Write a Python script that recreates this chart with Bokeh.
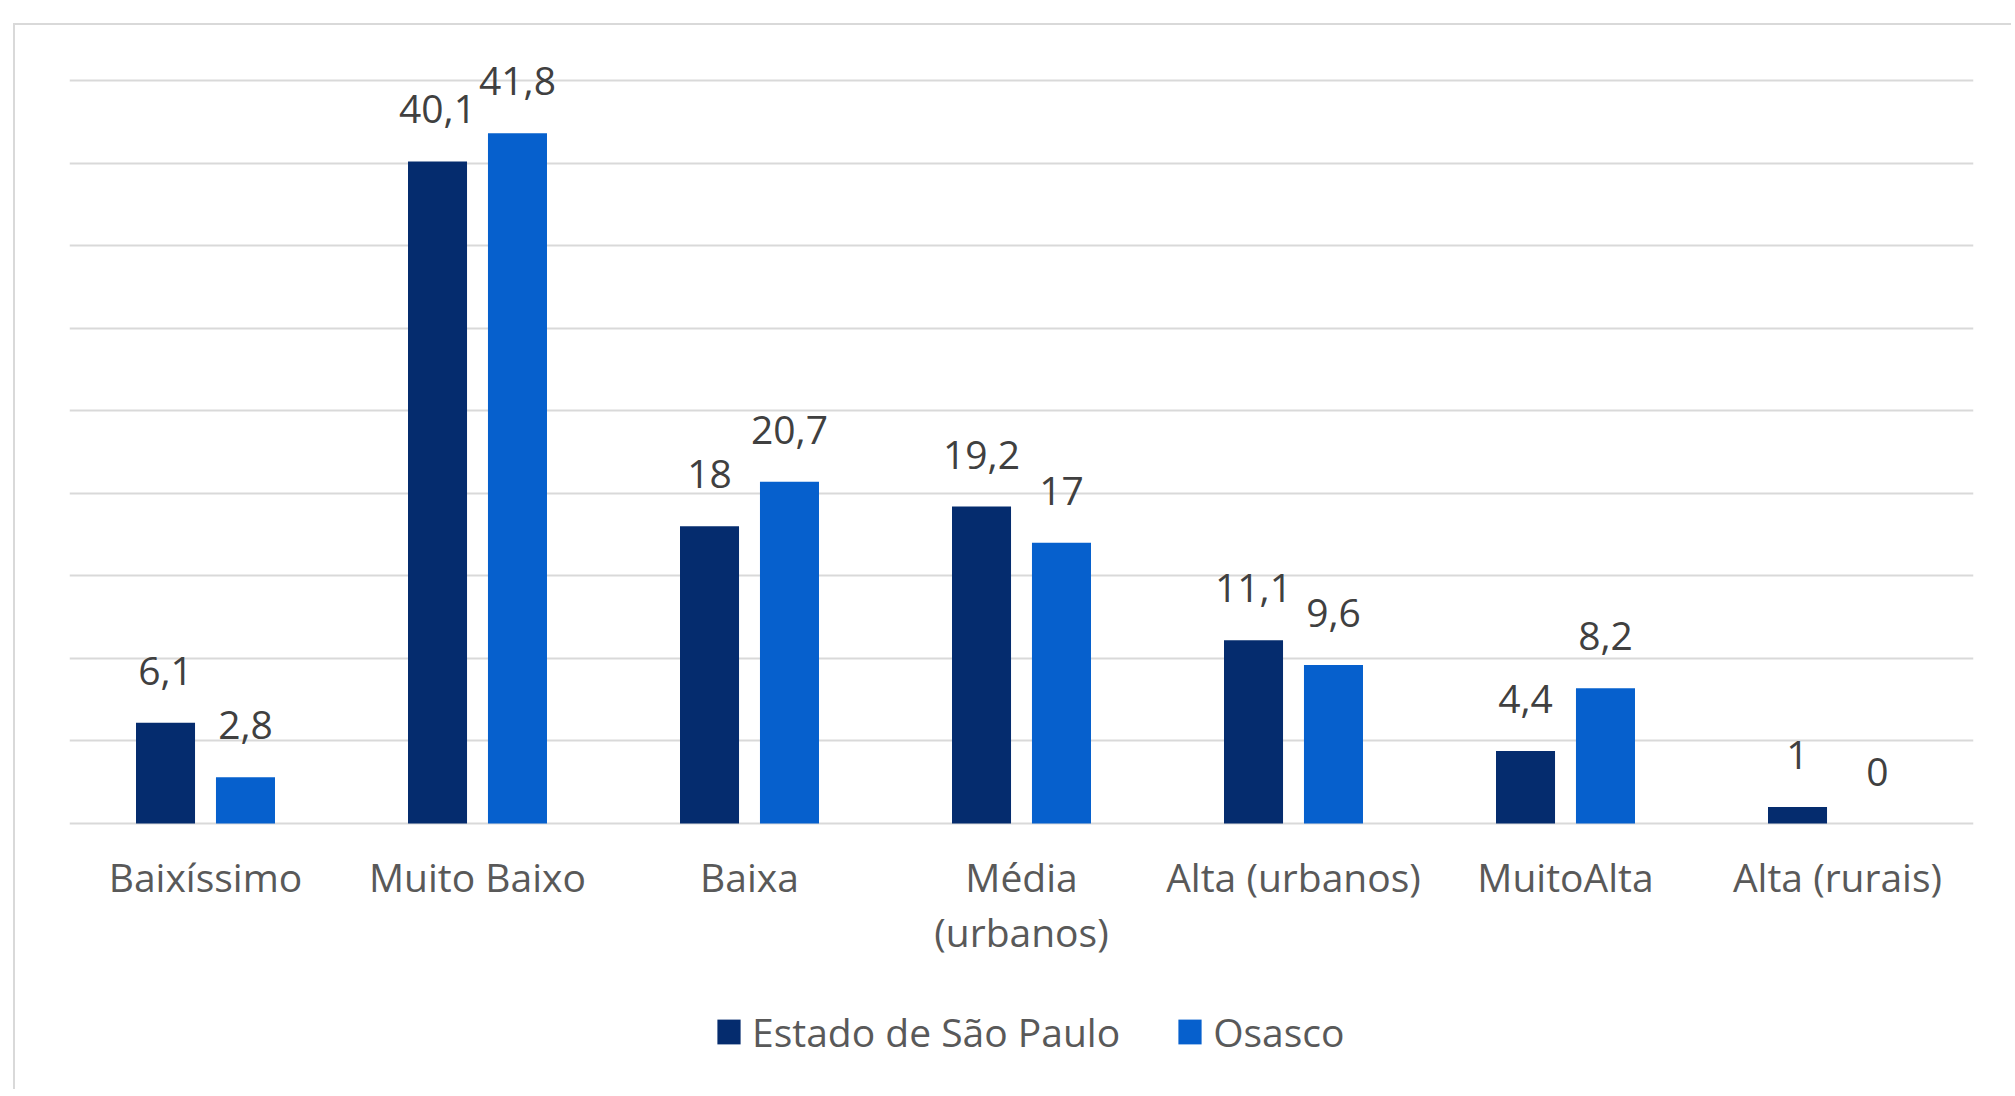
from bokeh.plotting import figure
from bokeh.models import FactorRange, Range1d, FixedTicker, Legend, LegendItem, ColumnDataSource
from bokeh.transform import dodge
from bokeh.core.properties import value
from bokeh.embed import file_html
from bokeh.resources import INLINE

# ---- data ----
categories = ["Baixíssimo", "Muito Baixo", "Baixa", "Média\n(urbanos)",
              "Alta (urbanos)", "MuitoAlta", "Alta (rurais)"]
series_names = ["Estado de São Paulo", "Osasco"]
sp_values = [6.1, 40.1, 18, 19.2, 11.1, 4.4, 1]
osasco_values = [2.8, 41.8, 20.7, 17, 9.6, 8.2, 0]
grid_ticks = [0, 5, 10, 15, 20, 25, 30, 35, 40, 45]


def fmt(v):
    return f"{v:g}".replace(".", ",")


src = ColumnDataSource(dict(
    cat=categories,
    sp=sp_values,
    os=osasco_values,
    sp_lbl=[fmt(v) for v in sp_values],
    os_lbl=[fmt(v) for v in osasco_values],
))

DARK = "#052C6E"
LIGHT = "#0660CD"
FONT = "Open Sans"

# frame covers the whole canvas below the top; the category axis sits at y=0
p = figure(
    x_range=FactorRange(factors=categories, range_padding=0),
    y_range=Range1d(-16.23, 47.97),
    width=1998, height=1066,
    output_backend="svg", toolbar_location=None,
    min_border_left=54, min_border_right=40, min_border_top=6, min_border_bottom=0,
)
p.styles = {"margin-left": "13px", "margin-top": "23px",
            "border-left": "2px solid #D9D9D9", "border-top": "2px solid #D9D9D9"}
p.outline_line_color = None
p.background_fill_color = "white"
p.border_fill_color = "white"

OFF = 0.147
W = 0.217
r1 = p.vbar(x=dodge("cat", -OFF, range=p.x_range), top="sp", bottom=0, width=W, source=src,
            fill_color=DARK, line_color=None)
r2 = p.vbar(x=dodge("cat", OFF, range=p.x_range), top="os", bottom=0, width=W, source=src,
            fill_color=LIGHT, line_color=None)

for xo, col in ((-OFF, "sp"), (OFF, "os")):
    p.text(x=dodge("cat", xo, range=p.x_range), y=col, text=col + "_lbl", source=src,
           text_align="center", text_baseline="alphabetic", y_offset=-52,
           text_font=value(FONT), text_font_size=value("39px"), text_color="#404040")

p.yaxis.visible = False
p.ygrid.ticker = FixedTicker(ticks=grid_ticks)
p.ygrid.grid_line_color = "#D9D9D9"
p.ygrid.grid_line_width = 2
p.xgrid.grid_line_color = None

ax = p.xaxis[0]
ax.fixed_location = 0
ax.axis_line_color = None
ax.major_tick_line_color = None
ax.minor_tick_line_color = None
ax.major_tick_out = 0
ax.major_label_standoff = 26
ax.major_label_text_font = FONT
ax.major_label_text_font_size = "39px"
ax.major_label_text_color = "#595959"
ax.major_label_text_line_height = 1.04

legend = Legend(
    items=[LegendItem(label=series_names[0], renderers=[r1]),
           LegendItem(label=series_names[1], renderers=[r2])],
    location=(645, 33), orientation="horizontal",
    glyph_width=29, glyph_height=31, label_standoff=9, spacing=55,
    padding=0, margin=0, border_line_color=None, background_fill_alpha=0,
    label_text_font=FONT, label_text_font_size="39px", label_text_color="#595959",
)
p.add_layout(legend)

open("out.html", "w").write(file_html(p, INLINE))
